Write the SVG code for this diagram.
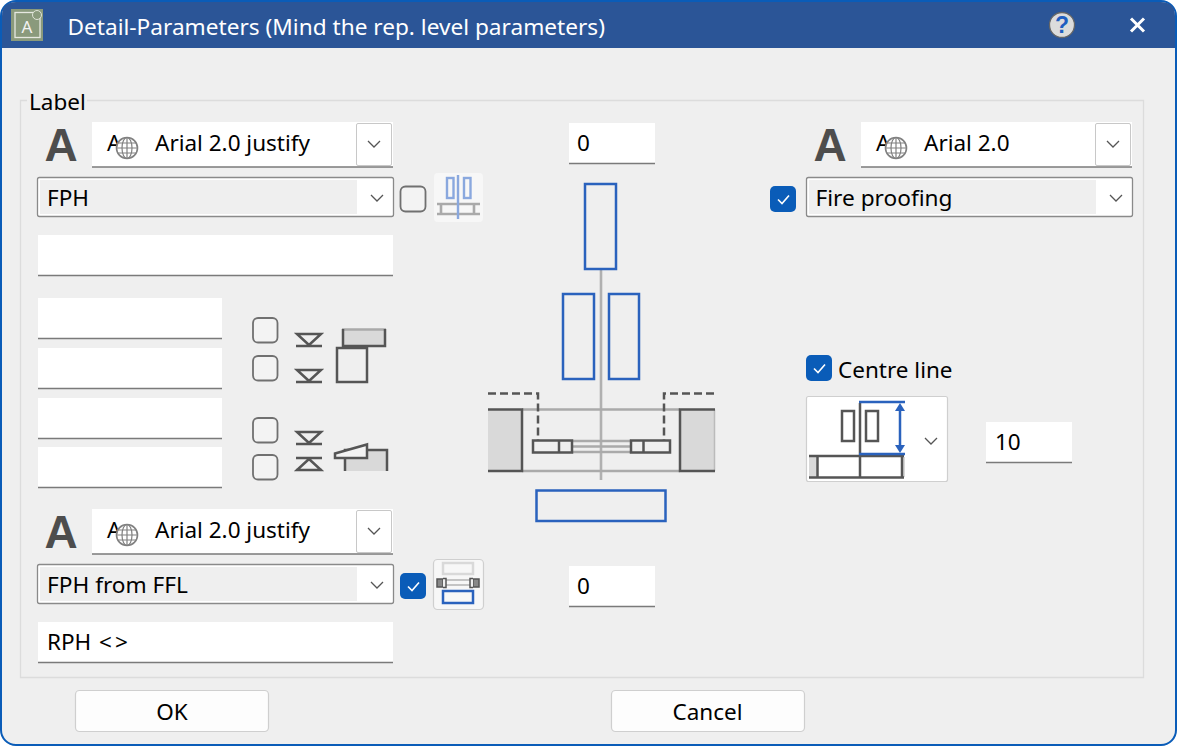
<svg xmlns="http://www.w3.org/2000/svg" xmlns:xlink="http://www.w3.org/1999/xlink" width="1177" height="746" viewBox="0 0 1177 746">
<style>
text{font-family:"Noto Sans","Open Sans","Liberation Sans",sans-serif;font-size:22.5px;fill:#000}
.field{fill:#fff}
.under{stroke:#7a7a7a;stroke-width:1.5;fill:none}
.chev{fill:none;stroke:#555;stroke-width:1.3}
.cb{fill:#f3f3f3;stroke:#707070;stroke-width:1.8}
.cbon{fill:#0a5cb8}
.tick{fill:none;stroke:#fff;stroke-width:1.6}
.big{font-family:"Liberation Sans",sans-serif;font-weight:700;font-size:46px;fill:#4d4d4d}
.d{fill:none;stroke:#555;stroke-width:2.5}
.g{fill:none;stroke:#aaa;stroke-width:2.6}
.b{fill:none;stroke:#2a62bd;stroke-width:2.5}
.lb{fill:none;stroke:#8aa8de;stroke-width:2.4}
.btn{fill:#fdfdfd;stroke:#cfcfcf;stroke-width:1.2}
.combo{fill:#fff;stroke:#8a8a8a;stroke-width:1.3}
.sel{fill:#efefef}
</style>
<defs>
<g id="globe"><circle cx="0" cy="0" r="10.5" fill="#fff" stroke="#808080" stroke-width="1.6"/><ellipse cx="0" cy="0" rx="5" ry="10.5" fill="none" stroke="#808080" stroke-width="1.2"/><path d="M-10.5 0H10.5M0-10.5V10.5M-9.3-5H9.3M-9.3 5H9.3" fill="none" stroke="#808080" stroke-width="1.2"/></g>
<g id="tickbox"><rect width="26" height="26" rx="5" class="cbon"/><path d="M8 13.5l4 4 7-8" class="tick"/></g>
</defs>
<rect x="1" y="1" width="1175" height="744" rx="15" fill="#efefef" stroke="#0a5cb8" stroke-width="2"/>
<path d="M2 48V16Q2 2 16 2H1161Q1175 2 1175 16V48Z" fill="#2b5597"/>

<g id="titlebar">
<rect x="11" y="9" width="32" height="32" fill="#8a9a7c"/>
<rect x="15" y="12.500" width="25" height="25" fill="none" stroke="#e6e8e0" stroke-width="1.300"/>
<text x="21.500" y="33" style="font-size:17px;fill:#f2f2f2">A</text>
<circle cx="37" cy="15" r="4.500" fill="#8a9a7c" stroke="#dfe3d6" stroke-width="1"/>
<text x="67.500" y="35" style="fill:#fff" textLength="537.500" lengthAdjust="spacingAndGlyphs">Detail-Parameters (Mind the rep. level parameters)</text>
<circle cx="1062" cy="25" r="12.500" fill="#dcdcdc" stroke="#666" stroke-width="1.300"/>
<text x="1062" y="33" text-anchor="middle" style="font-size:23px;font-weight:700;fill:#1f5fc0;font-family:'Liberation Sans',sans-serif">?</text>
<path d="M1131 18.500L1144 31.500M1144 18.500L1131 31.500" stroke="#fff" stroke-width="3" fill="none"/>
</g>

<g id="label-group">
<path d="M27 100.500H20.500V677.500H1143.500V100.500H87" fill="none" stroke="#dcdcdc" stroke-width="1.300"/>
<text x="29" y="110">Label</text>
</g>

<g id="top-left-font">
<text x="44.500" y="161" class="big">A</text>
<rect x="92" y="122" width="301" height="45" class="field"/><path d="M92 167H393" class="under"/>
<rect x="356.500" y="123.500" width="35" height="42" rx="1.500" fill="#fff" stroke="#c8c8c8" stroke-width="1"/>
<path d="M368 141l6 6 6-6" class="chev"/>
<text x="107" y="151">A</text><use xlink:href="#globe" x="127" y="148"/>
<text x="155" y="151">Arial 2.0 justify</text>
</g>
<g id="top-left-combo">
<rect x="37.500" y="177.500" width="356" height="39" rx="2" class="combo"/>
<rect x="40" y="180" width="317" height="34" class="sel"/>
<text x="47" y="206">FPH</text>
<path d="M371 195l6 6 6-6" class="chev"/>
<rect x="400.500" y="186.500" width="25" height="25" rx="5" class="cb"/>
<rect x="434" y="173" width="49" height="49" rx="4" fill="#f7f7f7"/>
<rect x="447" y="178" width="6.500" height="20" class="lb"/>
<rect x="464" y="178" width="6.500" height="20" class="lb"/>
<path d="M437 204H480M437 214H480M441 204V214M474 204V214" class="g"/>
<path d="M458 175V219" class="lb"/>
</g>
<g id="field-1"><rect x="38" y="235" width="355" height="41" class="field"/><path d="M38 275.500H393" class="under"/></g>
<g id="field-2"><rect x="38" y="298" width="184" height="41" class="field"/><path d="M38 338.500H222" class="under"/></g>
<g id="field-3"><rect x="38" y="348" width="184" height="41" class="field"/><path d="M38 388.500H222" class="under"/></g>
<g id="field-4"><rect x="38" y="398" width="184" height="41" class="field"/><path d="M38 438.500H222" class="under"/></g>
<g id="field-5"><rect x="38" y="447" width="184" height="41" class="field"/><path d="M38 487.500H222" class="under"/></g>

<g id="level-checks">
<rect x="253" y="318" width="24.500" height="24.500" rx="5" class="cb"/>
<rect x="253" y="356" width="24.500" height="24.500" rx="5" class="cb"/>
<rect x="253" y="418" width="24.500" height="24.500" rx="5" class="cb"/>
<rect x="253" y="455" width="24.500" height="24.500" rx="5" class="cb"/>
</g>
<g id="level-icons">
<path d="M297 334H321L309 345ZM296 346H322M297 370H321L309 381ZM296 382H322M297 432H321L309 443ZM296 444H322M296 458H322M297 470H321L309 459ZM296 470H322" class="d"/>
<path d="M342 329.500H386V346H342Z" fill="#d9d9d9"/><path d="M342 329.500H386" class="g"/><path d="M343 329V346H385V329" class="d"/>
<rect x="337" y="348" width="30" height="34" class="d"/>
<path d="M345 471V450H387V471Z" fill="#d9d9d9"/><path d="M345 471V450H387V471" class="d"/>
<path d="M335 453.500L367 444.500V458H335Z" fill="#f3f3f3" stroke="#555" stroke-width="2.500"/>
</g>

<g id="bottom-left-font">
<text x="44.500" y="548" class="big">A</text>
<rect x="92" y="509" width="301" height="45" class="field"/><path d="M92 554H393" class="under"/>
<rect x="356.500" y="510.500" width="35" height="42" rx="1.500" fill="#fff" stroke="#c8c8c8" stroke-width="1"/>
<path d="M368 528l6 6 6-6" class="chev"/>
<text x="107" y="538">A</text><use xlink:href="#globe" x="127" y="535"/>
<text x="155" y="538">Arial 2.0 justify</text>
</g>
<g id="bottom-left-combo">
<rect x="37.500" y="564.500" width="356" height="39" rx="2" class="combo"/>
<rect x="40" y="567" width="317" height="34" class="sel"/>
<text x="47" y="593" textLength="141" lengthAdjust="spacingAndGlyphs">FPH from FFL</text>
<path d="M371 582l6 6 6-6" class="chev"/>
<use xlink:href="#tickbox" x="400" y="573"/>
<rect x="433.500" y="559.500" width="50" height="50" rx="4" fill="#f7f7f7" stroke="#cfcfcf" stroke-width="1.200"/>
<rect x="443" y="563" width="30" height="11" fill="none" stroke="#d9d9d9" stroke-width="2.500"/>
<path d="M445 580H471M445 585H471" stroke="#c4c4c4" stroke-width="2" fill="none"/>
<path d="M437 579H443V587H437ZM473 579H479V587H473Z" fill="#888" stroke="#555" stroke-width="1.500"/>
<path d="M443 578.500H446V587.500H443M473 578.500H470V587.500H473" fill="#eee" stroke="#555" stroke-width="1.500"/>
<rect x="443" y="591" width="30" height="12" class="b"/>
</g>
<g id="field-rph"><rect x="38" y="622" width="355" height="41" class="field"/><path d="M38 662.500H393" class="under"/><text x="47" y="650">RPH <tspan x="99">&lt;</tspan><tspan x="115">&gt;</tspan></text></g>

<g id="value-top"><rect x="569" y="123" width="86" height="41" class="field"/><path d="M569 163.500H655" class="under"/><text x="577" y="151">0</text></g>
<g id="value-bottom"><rect x="569" y="566" width="86" height="41" class="field"/><path d="M569 606.500H655" class="under"/><text x="577" y="594">0</text></g>

<g id="preview">
<path d="M601 269V480" fill="none" stroke="#b0b0b0" stroke-width="2.600"/>
<rect x="585" y="184" width="31" height="85" class="b"/>
<rect x="563" y="294" width="31" height="85" class="b"/>
<rect x="609" y="294" width="30" height="85" class="b"/>
<path d="M522 409.500H680M522 471H680" class="g"/>
<path d="M488 409H522V471H488Z" fill="#d9d9d9"/>
<path d="M488 409.500H522V471H488" class="d"/>
<path d="M715 409H680V471H715Z" fill="#d9d9d9"/>
<path d="M714.500 409.500V471" stroke="#bbb" stroke-width="1.500" fill="none"/>
<path d="M715 409.500H680V471H715" class="d"/>
<path d="M572 441H631M572 446.500H631M572 452H631" class="g"/>
<rect x="533" y="440.500" width="39" height="12" fill="#efefef" stroke="#555" stroke-width="2.500"/>
<path d="M559 440.500V452.500" class="d"/>
<rect x="631" y="440.500" width="39" height="12" fill="#efefef" stroke="#555" stroke-width="2.500"/>
<path d="M643.500 440.500V452.500" class="d"/>
<path d="M488 393.500H538V440M714 393.500H664V440" fill="none" stroke="#555" stroke-width="2.500" stroke-dasharray="8 4"/>
<rect x="536.500" y="490.500" width="129" height="30.500" class="b"/>
</g>

<g id="top-right-font">
<text x="813.500" y="161" class="big">A</text>
<rect x="861" y="122" width="271" height="45" class="field"/><path d="M861 167H1132" class="under"/>
<rect x="1095.500" y="123.500" width="35" height="42" rx="1.500" fill="#fff" stroke="#c8c8c8" stroke-width="1"/>
<path d="M1107 141l6 6 6-6" class="chev"/>
<text x="876" y="151">A</text><use xlink:href="#globe" x="896" y="148"/>
<text x="924" y="151">Arial 2.0</text>
</g>
<g id="top-right-combo">
<use xlink:href="#tickbox" x="770" y="186"/>
<rect x="806.500" y="177.500" width="326" height="39" rx="2" class="combo"/>
<rect x="809" y="180" width="287" height="34" class="sel"/>
<text x="815.500" y="206" textLength="137" lengthAdjust="spacingAndGlyphs">Fire proofing</text>
<path d="M1110 195l6 6 6-6" class="chev"/>
</g>
<g id="centre-line">
<use xlink:href="#tickbox" x="806" y="355"/>
<text x="838" y="378">Centre line</text>
</g>
<g id="centre-combo">
<rect x="806.500" y="396.500" width="141" height="85" rx="2" fill="#fff" stroke="#cfcfcf" stroke-width="1.200"/>
<path d="M809 457H817V477H809ZM902 457H905V477H902Z" fill="#d9d9d9"/>
<rect x="842" y="411" width="12" height="30" class="d"/>
<rect x="866" y="411" width="12" height="30" class="d"/>
<path d="M860 403V477M809 456H904M809 477.500H904M817.500 456V477M902 456V477" class="d"/>
<path d="M859 402H905M859 454H905M900 408V450" class="b"/>
<path d="M895 411L900 403L905 411ZM895 445L900 453L905 445Z" fill="#2a62bd"/>
<path d="M925 438l6 6 6-6" class="chev"/>
</g>
<g id="value-right"><rect x="986" y="422" width="86" height="41" class="field"/><path d="M986 462.500H1072" class="under"/><text x="995" y="450">10</text></g>

<g id="btn-ok"><rect x="75.500" y="690.500" width="193" height="41" rx="4" class="btn"/><text x="172" y="720" text-anchor="middle">OK</text></g>
<g id="btn-cancel"><rect x="611.500" y="690.500" width="193" height="41" rx="4" class="btn"/><text x="707.500" y="720" text-anchor="middle">Cancel</text></g>
</svg>
